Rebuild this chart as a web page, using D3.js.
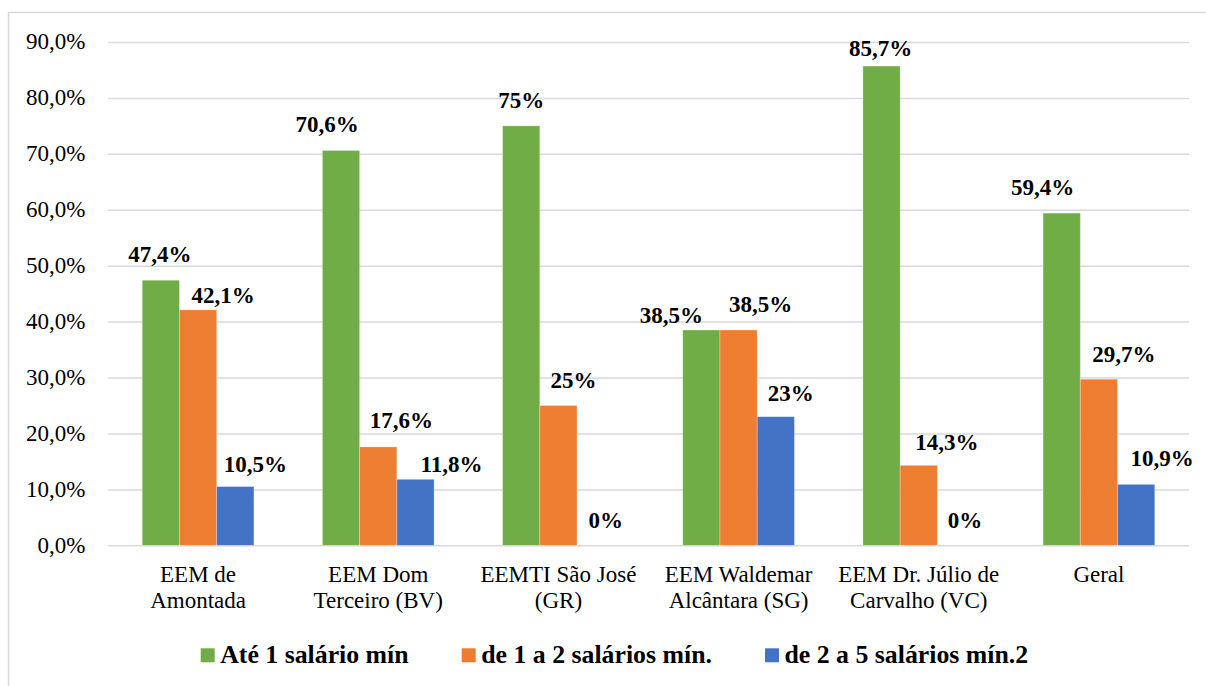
<!DOCTYPE html>
<html>
<head>
<meta charset="utf-8">
<script src="https://cdn.jsdelivr.net/npm/d3@7"></script>
</head>
<body style="margin:0">
<script>
// Renda familiar por escola (percentual de respondentes)
const categories = [
  ["EEM de", "Amontada"],
  ["EEM Dom", "Terceiro (BV)"],
  ["EEMTI São José", "(GR)"],
  ["EEM Waldemar", "Alcântara (SG)"],
  ["EEM Dr. Júlio de", "Carvalho (VC)"],
  ["Geral"]
];
const seriesNames = ["Até 1 salário mín", "de 1 a 2 salários mín.", "de 2 a 5 salários mín.2"];
const ate1 = [47.4, 70.6, 75, 38.5, 85.7, 59.4];
const de1a2 = [42.1, 17.6, 25, 38.5, 14.3, 29.7];
const de2a5 = [10.5, 11.8, 0, 23, 0, 10.9];
const yTicks = [0, 10, 20, 30, 40, 50, 60, 70, 80, 90];

// Hand-placed label nudges (horizontal shift, lift above bar top), per series
const labelShift = [
  [-1, -14, 0, -30, -1, -19],
  [25, 23, 15, 22, 28, 25],
  [20, 36, 10, 15, 9, 26]
];
const labelLift = [
  [18, 18, 18, 7, 10, 18],
  [7, 19, 17, 18, 15, 17],
  [15, 7, 17, 16, 17, 18]
];

const serifFaces = ["Liberation Serif"];
const colors = ["#70AD47", "#ED7D31", "#4472C4"];
const values = [ate1, de1a2, de2a5];

const svg = d3.select("body").append("svg")
  .attr("width", 1206).attr("height", 686);

function label(parent, f) {
  return parent.append("text").attr("font-family", serifFaces[0]).attr("font-size", f);
}

// Outer chart frame (left and top edges visible)
svg.append("rect")
  .attr("x", 8.5).attr("y", 12.5)
  .attr("width", 1230).attr("height", 700)
  .attr("fill", "none").attr("stroke", "#d9d9d9").attr("stroke-width", 1.5);

const plot = { left: 108, right: 1189, top: 42, bottom: 545.3 };

const x = d3.scaleBand()
  .domain(d3.range(categories.length))
  .range([plot.left, plot.right])
  .paddingInner(0.38)
  .paddingOuter(0.19);

const xs = d3.scaleBand()
  .domain(d3.range(seriesNames.length))
  .range([0, x.bandwidth()]);

const y = d3.scaleLinear().domain([0, 90]).range([plot.bottom, plot.top]);

// Gridlines drawn by the axis; tick labels drawn separately
const yAxis = d3.axisLeft(y)
  .tickValues(yTicks)
  .tickSize(-(plot.right - plot.left))
  .tickFormat("");

const ga = svg.append("g")
  .attr("transform", `translate(${plot.left},0)`)
  .call(yAxis);
ga.select(".domain").remove();
ga.selectAll(".tick line").attr("stroke", "#d9d9d9").attr("stroke-width", 1.5);
ga.selectAll(".tick text").remove();

yTicks.forEach(t => {
  label(svg, 23)
    .attr("x", 85.3)
    .attr("y", y(t) + 7.3)
    .attr("text-anchor", "end")
    .attr("fill", "#000")
    .text(t.toFixed(1).replace(".", ",") + "%");
});

// Bars and value labels
const fmt = v => (Number.isInteger(v) ? String(v) : v.toFixed(1).replace(".", ",")) + "%";

values.forEach((vals, s) => {
  const g = svg.append("g");
  g.selectAll("rect")
    .data(vals)
    .join("rect")
    .attr("x", (d, i) => x(i) + xs(s))
    .attr("y", d => y(d))
    .attr("width", xs.bandwidth())
    .attr("height", d => y(0) - y(d))
    .attr("fill", colors[s])
    .attr("stroke", "#ffffff")
    .attr("stroke-opacity", 0.35)
    .attr("stroke-width", 0.8);

  vals.forEach((d, i) => {
    label(g, 23)
      .attr("x", x(i) + xs(s) + xs.bandwidth() / 2 + labelShift[s][i])
      .attr("y", y(d) - labelLift[s][i])
      .attr("text-anchor", "middle")
      .attr("font-weight", "bold")
      .attr("fill", "#000")
      .text(fmt(d));
  });
});

// Category labels
categories.forEach((lines, i) => {
  const cx = x(i) + x.bandwidth() / 2;
  lines.forEach((ln, k) => {
    label(svg, 23)
      .attr("x", cx)
      .attr("y", 581.7 + k * 26.6)
      .attr("text-anchor", "middle")
      .attr("fill", "#000")
      .text(ln);
  });
});

// Legend
const legendStarts = [200.7, 461.7, 765];
seriesNames.forEach((name, s) => {
  svg.append("rect")
    .attr("x", legendStarts[s]).attr("y", 648.3)
    .attr("width", 14).attr("height", 14)
    .attr("fill", colors[s]);
  label(svg, 25.8)
    .attr("x", legendStarts[s] + 19.5)
    .attr("y", 662.7)
    .attr("font-weight", "bold")
    .attr("fill", "#000")
    .text(name);
});
</script>
</body>
</html>
